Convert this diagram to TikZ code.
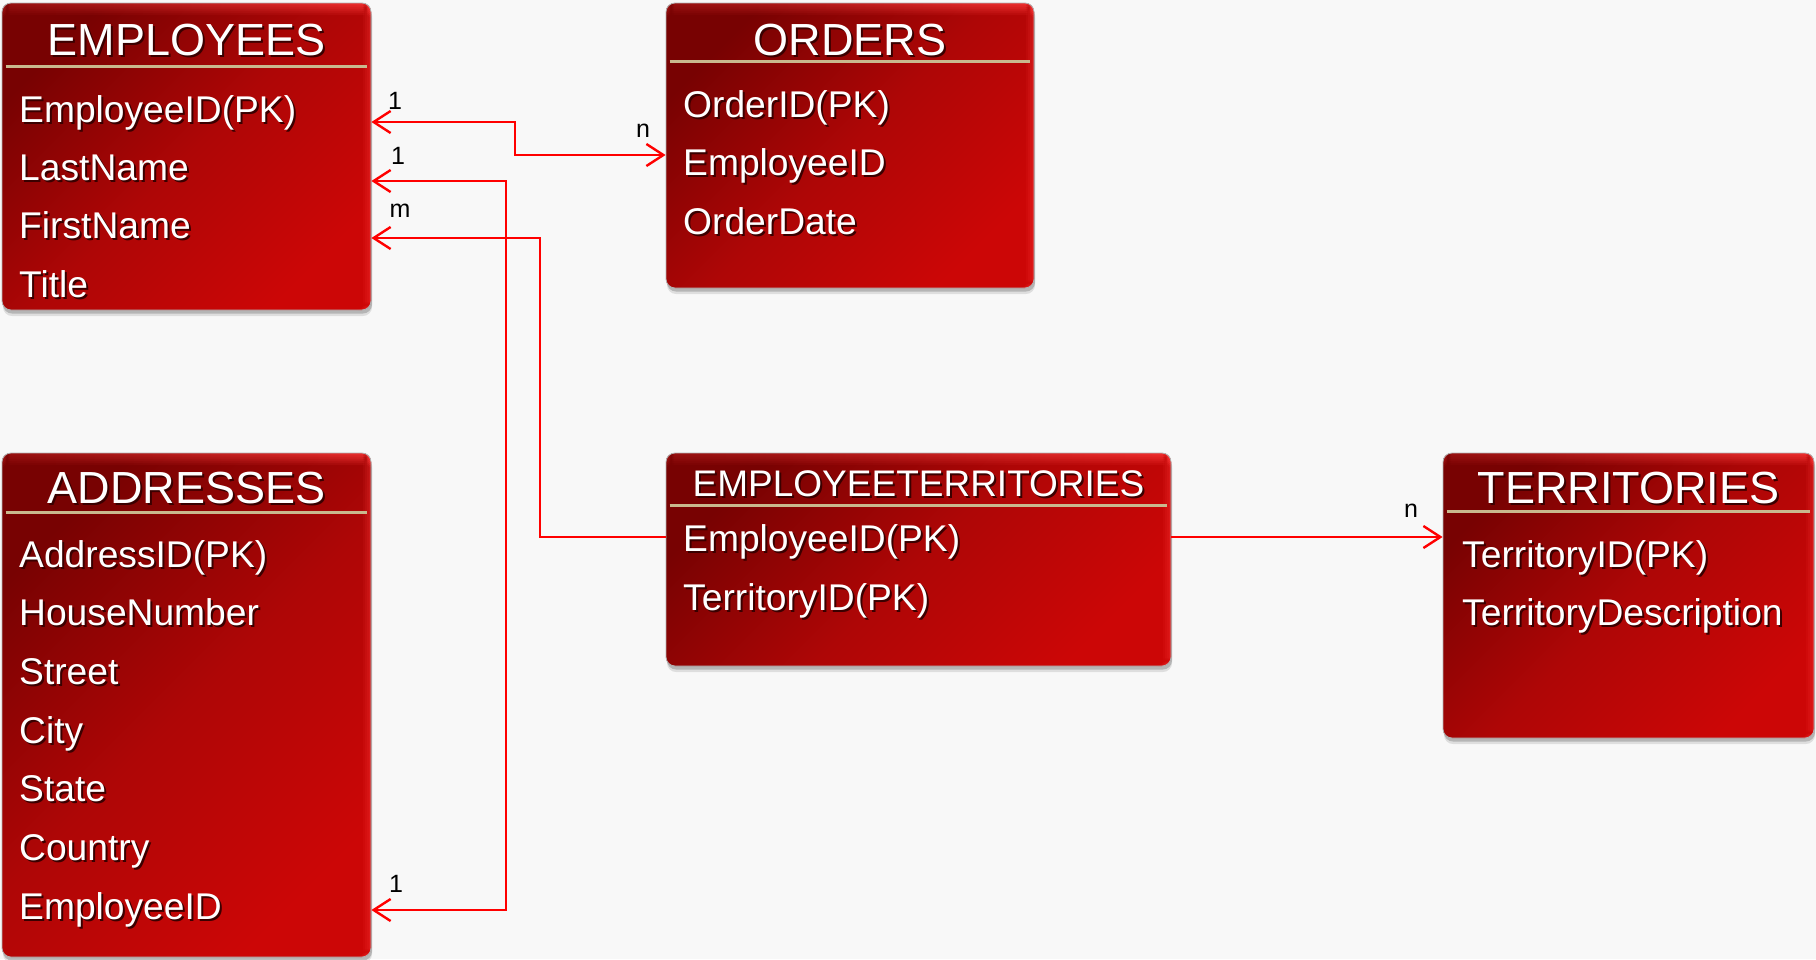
\documentclass[tikz,border=0pt]{standalone}
\usepackage{fontspec}
\setmainfont{Liberation Sans}
\usetikzlibrary{arrows.meta,shadows,calc}

\definecolor{bg}{HTML}{F8F8F8}
\definecolor{boxdark}{HTML}{780202}
\definecolor{boxmid}{HTML}{AE0606}
\definecolor{boxlight}{HTML}{CC0606}
\definecolor{glossleft}{HTML}{A01414}
\definecolor{glossright}{HTML}{FF3A3A}
\definecolor{rulecol}{HTML}{C9B98E}
\definecolor{txtshadow}{HTML}{3A0000}
\definecolor{linkcol}{HTML}{FF0000}

% white lettering with a dark offset copy underneath
\newcommand\shadowed[1]{\makebox[0pt][l]{\hspace{2pt}\raisebox{-2.5pt}{\textcolor{txtshadow}{#1}}}#1}

\tikzset{
  tbl/.style={rectangle, rounded corners=9pt, inner sep=0pt,
    draw=black!30, line width=0.8pt,
    top color=boxdark, bottom color=boxlight, middle color=boxmid, shading angle=45,
    general shadow={shadow xshift=1pt, shadow yshift=-6pt, opacity=0.10, fill=black},
    general shadow={shadow xshift=1pt, shadow yshift=-3.5pt, opacity=0.18, fill=black},
    path picture={
      % glossy bevel along the top edge, brighter towards the right
      \foreach \k in {0,...,5} {
        \pgfmathsetmacro\op{0.75*(1-\k/6)}
        \shade[left color=glossleft, right color=glossright, fill opacity=\op]
          ([yshift=-2*\k pt]path picture bounding box.north west)
          rectangle ([yshift=-2*\k pt-2pt]path picture bounding box.north east);
      }
      % lighter rim along the right edge
      \foreach \k in {0,...,3} {
        \pgfmathsetmacro\op{0.35*(1-\k/4)}
        \fill[glossright, fill opacity=\op]
          ([xshift=-2*\k pt]path picture bounding box.north east)
          rectangle ([xshift=-2*\k pt-2pt]path picture bounding box.south east);
      }
    }},
  ttl/.style={text=white, font=\fontsize{45}{50}\selectfont, anchor=base, inner sep=0pt},
  ttlsmall/.style={ttl, font=\fontsize{37}{40}\selectfont},
  fld/.style={text=white, font=\fontsize{37.2}{40}\selectfont, anchor=base west, inner sep=0pt},
  seprule/.style={draw=rulecol, line width=3pt},
  rel/.style={draw=linkcol, line width=2.4pt},
  card/.style={font=\fontsize{25}{28}\selectfont, text=black, inner sep=0pt},
  >={Straight Barb[length=17pt, width=22pt, line width=2.4pt]},
}

\begin{document}
\begin{tikzpicture}[x=1pt, y=-1pt]
  \fill[bg] (0,0) rectangle (1816,959);
  \useasboundingbox (0,0) rectangle (1816,959);

  % tables
  \node[tbl, minimum width=369pt, minimum height=307pt] (emp) at (186.5,156.5) {};
  \node[tbl, minimum width=368pt, minimum height=285pt] (ord) at (850,145.5) {};
  \node[tbl, minimum width=369pt, minimum height=504pt] (adr) at (186.5,705) {};
  \node[tbl, minimum width=505pt, minimum height=213pt] (et) at (918.5,559.5) {};
  \node[tbl, minimum width=371pt, minimum height=285pt] (ter) at (1628.5,595.5) {};

  % headings
  \node[ttl] (emp-t) at (186.5,55) {\shadowed{EMPLOYEES}};
  \node[ttl] (ord-t) at (850,55) {\shadowed{ORDERS}};
  \node[ttl] (adr-t) at (186.5,503) {\shadowed{ADDRESSES}};
  \node[ttlsmall] (et-t) at (918.5,496) {\shadowed{EMPLOYEETERRITORIES}};
  \node[ttl] (ter-t) at (1628.5,503) {\shadowed{TERRITORIES}};

  % rules under the headings
  \draw[seprule] ([xshift=4pt]emp.west |- 0,66) -- ([xshift=-4pt]emp.east |- 0,66);
  \draw[seprule] ([xshift=4pt]ord.west |- 0,61) -- ([xshift=-4pt]ord.east |- 0,61);
  \draw[seprule] ([xshift=4pt]adr.west |- 0,512) -- ([xshift=-4pt]adr.east |- 0,512);
  \draw[seprule] ([xshift=4pt]et.west |- 0,505) -- ([xshift=-4pt]et.east |- 0,505);
  \draw[seprule] ([xshift=4pt]ter.west |- 0,511) -- ([xshift=-4pt]ter.east |- 0,511);

  % fields
  \node[fld] (emp-1) at (19,122) {\shadowed{EmployeeID(PK)}};
  \node[fld] (emp-2) at (19,180) {\shadowed{LastName}};
  \node[fld] (emp-3) at (19,238) {\shadowed{FirstName}};
  \node[fld] (emp-4) at (19,297) {\shadowed{Title}};

  \node[fld] (ord-1) at (683,117) {\shadowed{OrderID(PK)}};
  \node[fld] (ord-2) at (683,175) {\shadowed{EmployeeID}};
  \node[fld] (ord-3) at (683,234) {\shadowed{OrderDate}};

  \node[fld] (adr-1) at (19,567) {\shadowed{AddressID(PK)}};
  \node[fld] (adr-2) at (19,625) {\shadowed{HouseNumber}};
  \node[fld] (adr-3) at (19,684) {\shadowed{Street}};
  \node[fld] (adr-4) at (19,743) {\shadowed{City}};
  \node[fld] (adr-5) at (19,801) {\shadowed{State}};
  \node[fld] (adr-6) at (19,860) {\shadowed{Country}};
  \node[fld] (adr-7) at (19,919) {\shadowed{EmployeeID}};

  \node[fld] (et-1) at (683,551) {\shadowed{EmployeeID(PK)}};
  \node[fld] (et-2) at (683,610) {\shadowed{TerritoryID(PK)}};

  \node[fld] (ter-1) at (1462,567) {\shadowed{TerritoryID(PK)}};
  \node[fld] (ter-2) at (1462,625) {\shadowed{TerritoryDescription}};

  % relationships
  \draw[rel, <->] (emp.east |- 0,122) -- (515,122) -- (515,155) -- (ord.west |- 0,155);
  \draw[rel, <->] (emp.east |- 0,181) -- (506,181) -- (506,910) -- (adr.east |- 0,910);
  \draw[rel, <-] (emp.east |- 0,238) -- (540,238) -- (540,537) -- (et.west |- 0,537);
  \draw[rel, ->] (et.east |- 0,537) -- (ter.west |- 0,537);

  % cardinalities
  \node[card] (c1) at (395,101) {1};
  \node[card] (c2) at (643,131) {n};
  \node[card] (c3) at (398,156) {1};
  \node[card] (c4) at (400,211) {m};
  \node[card] (c5) at (396,884) {1};
  \node[card] (c6) at (1411,511) {n};
\end{tikzpicture}
\end{document}
